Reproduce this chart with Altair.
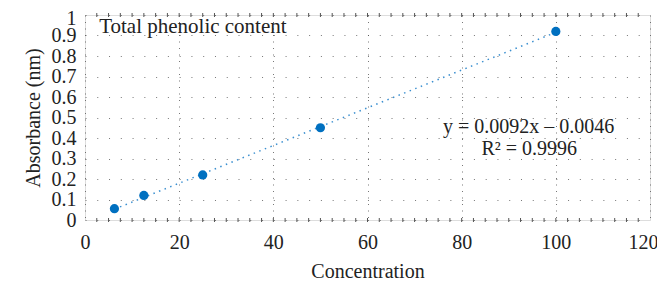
import altair as alt
import pandas as pd
import numpy as np

conc = [6.25, 12.5, 25, 50, 100]
absorb = [0.055, 0.12, 0.22, 0.45, 0.92]
slope = 0.0092
intercept = -0.0046
x_ticks = [0, 20, 40, 60, 80, 100, 120]
y_ticks = [0, 0.1, 0.2, 0.3, 0.4, 0.5, 0.6, 0.7, 0.8, 0.9, 1]
minor_x = [i * 2.5 for i in range(1, 48)]
title_text = "Total phenolic content"
eq_text = "y = 0.0092x – 0.0046"
r2_text = "R² = 0.9996"

FONT = "Liberation Serif"
FS = 20
pts = pd.DataFrame({"c": conc, "a": absorb})
fit = pd.DataFrame({"c": [conc[0], conc[-1]]})
fit["a"] = slope * fit["c"] + intercept

xs = alt.Scale(domain=[0, 120], nice=False, zero=False)
ys = alt.Scale(domain=[0, 1], nice=False, zero=False)

xaxis = alt.Axis(values=x_ticks, title="Concentration", grid=True, gridDash=[1, 5.5],
                 gridColor="#555", gridWidth=1, gridOpacity=0.8, domain=False, ticks=False,
                 labelPadding=12, labelFontSize=FS, labelFont=FONT, labelColor="#222",
                 labelFlush=False, labelOverlap=False,
                 labelOffset={"expr": "datum.value == 120 ? -7 : 0"},
                 titleFont=FONT, titleFontSize=FS, titleFontWeight="normal", titleColor="#222",
                 titlePadding=9)
yaxis = alt.Axis(values=y_ticks, title="Absorbance (nm)", grid=True, gridDash=[1, 10.77],
                 gridColor="#555", gridWidth=1, gridOpacity=0.8, domain=False, ticks=False,
                 labelPadding=9, labelFontSize=FS, labelFont=FONT, labelColor="#222",
                 format="~g", labelFlush=False, labelOverlap=False,
                 labelOffset={"expr": "datum.value == 1 ? 3 : 0"},
                 titleFont=FONT, titleFontSize=FS, titleFontWeight="normal", titleColor="#222",
                 titlePadding=8)

X = alt.X("c:Q", scale=xs, axis=xaxis)
Y = alt.Y("a:Q", scale=ys, axis=yaxis)

line = alt.Chart(fit).mark_line(color="#3a8fd0", strokeDash=[1.5, 4.5], strokeWidth=1.5).encode(
    x=X, y=Y)
points = alt.Chart(pts).mark_point(filled=True, size=85, color="#0070c0", opacity=1).encode(
    x=X, y=Y)

minor = pd.DataFrame({"c": minor_x * 2,
                      "a": [0] * len(minor_x) + [1] * len(minor_x),
                      "off": [-2] * len(minor_x) + [2] * len(minor_x)})
minor_ticks = alt.Chart(minor).mark_tick(orient="vertical", size=4, thickness=1,
                                         color="#555", opacity=1).encode(
    x=X, y=Y, yOffset=alt.YOffset("off:Q", scale=None))

ann = pd.DataFrame({"c": [3.0], "a": [0.995], "t": [title_text]})
title_mark = alt.Chart(ann).mark_text(align="left", baseline="top", font=FONT, fontSize=21,
                                      color="#222").encode(x=X, y=Y, text="t:N")

eq = pd.DataFrame({"c": [112.4, 104.5], "a": [0.455, 0.345], "t": [eq_text, r2_text]})
eq_mark = alt.Chart(eq).mark_text(align="right", baseline="middle", font=FONT, fontSize=FS,
                                  color="#222").encode(x=X, y=Y, text="t:N")

chart = alt.layer(line, points, minor_ticks, title_mark, eq_mark).properties(
    width=565, height=205, autosize=alt.AutoSizeParams(type="none"),
    padding={"left": 77, "top": 7, "right": 7, "bottom": 62},
).configure_view(stroke="#444", strokeWidth=1.5).configure(background="white")

chart.save("out.html", embed_options={"renderer": "svg", "actions": False})
